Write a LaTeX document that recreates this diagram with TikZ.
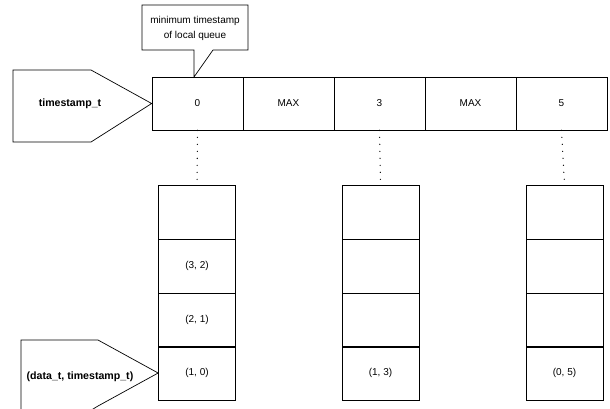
\documentclass[tikz,border=0pt]{standalone}
\usepackage{fontspec}
\setmainfont{Liberation Sans}
\begin{document}
\begin{tikzpicture}[x=1pt,y=-1pt,
  every node/.style={font=\fontsize{10}{12}\selectfont, inner sep=0pt},
  lbl/.style={font=\fontsize{10.6}{12}\selectfont\bfseries},
  cell/.style={draw, line width=0.7pt, minimum width=91pt, minimum height=53pt},
  slot/.style={draw, line width=0.7pt, minimum width=77pt, minimum height=54pt},
  shp/.style={draw, line width=0.7pt},
  dots/.style={line width=1.3pt, dash pattern=on 0pt off 7pt, line cap=round}]
\useasboundingbox (0,0) rectangle (610,408);
% top row
\node[cell] (c0) at (197.5,103.5) {0};
\node[cell] (c1) at (288.5,103.5) {MAX};
\node[cell] (c2) at (379.5,103.5) {3};
\node[cell] (c3) at (470.5,103.5) {MAX};
\node[cell] (c4) at (561.5,103.5) {5};
% stacks
\foreach \n/\x in {p/197, q/380.5, r/564.5}{
  \node[slot] (\n1) at (\x,212) {};
  \node[slot] (\n2) at (\x,266) {};
  \node[slot] (\n3) at (\x,320) {};
  \node[slot] (\n4) at (\x,373) {};
}
\node (t32) at (p2) {(3, 2)};
\node (t21) at (p3) {(2, 1)};
\node (t10) at (p4) {(1, 0)};
\node (t13) at (q4) {(1, 3)};
\node (t05) at (r4) {(0, 5)};
% dotted links
\draw[dots] (c0.south) -- (p1.north);
\draw[dots] (c2.south) -- (q1.north);
\draw[dots] (c4.south) -- (r1.north);
% timestamp_t pentagon
\draw[shp] (13,70) -- (91,70) -- (c0.west) -- (91,142) -- (13,142) -- cycle;
\node[lbl] (tl) at (70,104) {timestamp\_t};
% data pentagon
\begin{scope}
\clip (0,0) rectangle (610,408);
\draw[shp] (21,440) -- (21,340) -- (98,340) -- (p4.west) -- (98,406) -- (80,417);
\end{scope}
\node[lbl] (dl) at (80,377) {(data\_t, timestamp\_t)};
% callout
\coordinate (tip) at (194,77);
\draw[shp] (142,5) -- (248,5) -- (248,50) -- (213,50) -- (tip) -- (194,50) -- (142,50) -- cycle;
\node[align=center] (note) at (195,28) {minimum timestamp\\[3pt]of local queue};
\end{tikzpicture}
\end{document}
